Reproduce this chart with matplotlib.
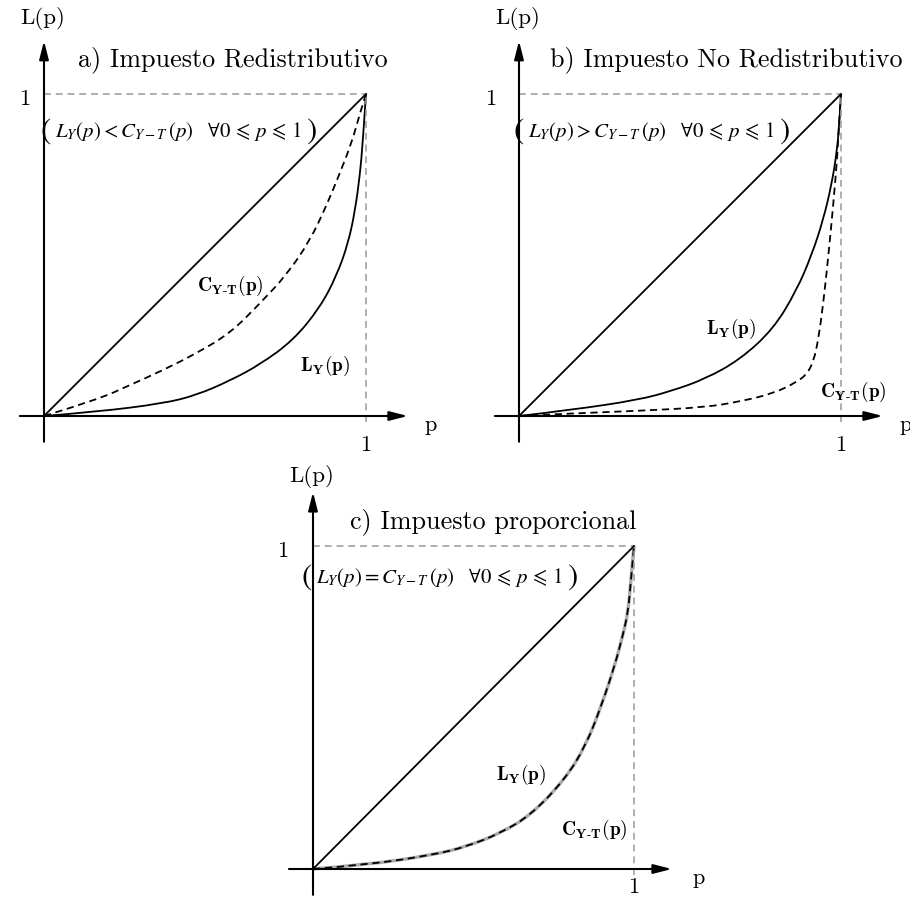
import matplotlib
matplotlib.use("Agg")
import matplotlib.pyplot as plt
from matplotlib.path import Path
from matplotlib.patches import PathPatch
from matplotlib.offsetbox import TextArea, HPacker, AnnotationBbox

plt.rcParams["font.family"] = ["cmr10", "DejaVu Serif"]
plt.rcParams["mathtext.fontset"] = "cm"
plt.rcParams["axes.unicode_minus"] = False

# ── curvas de Lorenz / concentración (p, valor) ─────────────────
P_LY_A = [0, 0.164, 0.371, 0.474, 0.578, 0.671, 0.774, 0.857, 0.909, 0.945, 0.966, 0.981, 0.990, 1]
LY_A   = [0, 0.013, 0.039, 0.065, 0.110, 0.160, 0.235, 0.337, 0.436, 0.538, 0.638, 0.748, 0.850, 1]
P_C_A  = [0, 0.164, 0.267, 0.371, 0.474, 0.578, 0.671, 0.754, 0.826, 0.878, 0.919, 0.956, 0.981, 1]
C_A    = [0, 0.050, 0.096, 0.143, 0.195, 0.257, 0.350, 0.439, 0.545, 0.655, 0.755, 0.850, 0.940, 1]

P_LY_B = [0, 0.164, 0.371, 0.474, 0.578, 0.686, 0.790, 0.862, 0.909, 0.945, 0.971, 0.987, 0.995, 1]
LY_B   = [0, 0.019, 0.050, 0.078, 0.115, 0.175, 0.270, 0.390, 0.500, 0.610, 0.720, 0.820, 0.910, 1]
P_C_B  = [0, 0.164, 0.371, 0.578, 0.686, 0.790, 0.862, 0.894, 0.915, 0.930, 0.945, 0.961, 0.976, 0.989, 0.995, 1]
C_B    = [0, 0.008, 0.016, 0.027, 0.045, 0.070, 0.105, 0.130, 0.170, 0.240, 0.350, 0.500, 0.656, 0.812, 0.930, 1]

P_LY_C = [0, 0.168, 0.376, 0.480, 0.584, 0.680, 0.785, 0.850, 0.900, 0.940, 0.967, 0.982, 0.990, 1]
LY_C   = [0, 0.013, 0.044, 0.070, 0.111, 0.168, 0.278, 0.382, 0.510, 0.630, 0.730, 0.800, 0.890, 1]

TITLES = ["a) Impuesto Redistributivo",
          "b) Impuesto No Redistributivo",
          "c) Impuesto proporcional"]
CONDS = [r"$L_Y(p) < C_{Y-T}\,(p)\quad \forall 0 \,\leqslant\, p \,\leqslant\, 1$",
         r"$L_Y(p) > C_{Y-T}\,(p)\quad \forall 0 \,\leqslant\, p \,\leqslant\, 1$",
         r"$L_Y(p) = C_{Y-T}\,(p)\quad \forall 0 \,\leqslant\, p \,\leqslant\, 1$"]
LBL_LY = r"$\mathbf{L_Y(p)}$"
LBL_C  = r"$\mathbf{C_{Y\text{-}T}(p)}$"

W, H = 910, 905
fig = plt.figure(figsize=(W / 100, H / 100), dpi=100)

PMIN, PMAX, LMIN, LMAX = -0.15, 1.35, -0.15, 1.3
TXT = 16


def panel(ox, oy, ux, uy):
    """Ejes sin marco con el origen en el píxel (ox, oy)."""
    left = (ox + PMIN * ux) / W
    bottom = 1 - (oy - LMIN * uy) / H
    ax = fig.add_axes([left, bottom, (PMAX - PMIN) * ux / W, (LMAX - LMIN) * uy / H])
    ax.set_xlim(PMIN, PMAX)
    ax.set_ylim(LMIN, LMAX)
    ax.axis("off")
    return ax


def curve(ax, ps, vs, **kw):
    # B-spline cuadrático sobre los puntos leídos
    pts = list(zip(ps, vs))
    verts, codes = [pts[0]], [Path.MOVETO]
    for i in range(1, len(pts) - 1):
        end = pts[-1] if i == len(pts) - 2 else (
            (pts[i][0] + pts[i + 1][0]) / 2, (pts[i][1] + pts[i + 1][1]) / 2)
        verts += [pts[i], end]
        codes += [Path.CURVE3, Path.CURVE3]
    ax.add_patch(PathPatch(Path(verts, codes), fill=False, capstyle="butt", **kw))


def condition(ax, text, x, y):
    props = dict(fontsize=15, math_fontfamily="stix")
    big = dict(fontsize=22, math_fontfamily="stix")
    box = HPacker(children=[TextArea(r"$($", textprops=big),
                            TextArea(text, textprops=props),
                            TextArea(r"$)$", textprops=big)],
                  align="center", pad=0, sep=3)
    ax.add_artist(AnnotationBbox(box, (x, y), xycoords="data", frameon=False,
                                 box_alignment=(0.5, 0.5), pad=0))


def base(ax, title, tx, ty, cx, cy, lp_y, one_x, one_y, x_tip, y_tip):
    arr = dict(arrowstyle="-|>,head_length=1.1,head_width=0.28", color="black",
               lw=1.5, shrinkA=0, shrinkB=0)
    ax.annotate("", xy=(x_tip, 0), xytext=(-0.075, 0), arrowprops=arr)
    ax.annotate("", xy=(0, y_tip), xytext=(0, -0.08), arrowprops=arr)
    ax.plot([0, 1], [1, 1], color="#999999", lw=1.1, dashes=(4.5, 3.2))
    ax.plot([1, 1], [-0.02, 1], color="#999999", lw=1.1, dashes=(4.5, 3.2))
    ax.plot([0, 1], [0, 1], color="black", lw=1.3)
    ax.text(-0.005, lp_y, "L(p)", ha="center", va="center", fontsize=16.5)
    ax.text(1.2, -0.03, "p", ha="center", va="center", fontsize=TXT)
    ax.text(1.0, one_y, "1", ha="center", va="center", fontsize=TXT)
    ax.text(one_x, 0.985, "1", ha="center", va="center", fontsize=TXT)
    ax.text(tx, ty, title, ha="center", va="center", fontsize=18.8)
    condition(ax, CONDS[TITLES.index(title)], cx, cy)


solid = dict(edgecolor="black", lw=1.3)
dash = dict(edgecolor="black", lw=1.3, linestyle=(0, (4, 2.6)))

# a) redistributivo
ax = panel(44, 416, 322, 322)
base(ax, TITLES[0], 0.587, 1.106, 0.416, 0.885, 1.235, -0.06, -0.092, 1.13, 1.165)
curve(ax, P_LY_A, LY_A, **solid)
curve(ax, P_C_A, C_A, **dash)
ax.text(0.578, 0.404, LBL_C, ha="center", va="center", fontsize=14)
ax.text(0.873, 0.155, LBL_LY, ha="center", va="center", fontsize=14)

# b) no redistributivo
ax = panel(519, 416, 322, 322)
base(ax, TITLES[1], 0.643, 1.106, 0.41, 0.885, 1.235, -0.087, -0.092, 1.13, 1.165)
curve(ax, P_LY_B, LY_B, **solid)
curve(ax, P_C_B, C_B, **dash)
ax.text(0.658, 0.27, LBL_LY, ha="center", va="center", fontsize=14)
ax.text(1.037, 0.075, LBL_C, ha="center", va="center", fontsize=14)

# c) proporcional: ambas curvas coinciden
ax = panel(313, 869, 321, 323)
base(ax, TITLES[2], 0.562, 1.074, 0.393, 0.904, 1.215, -0.095, -0.055, 1.118, 1.167)
curve(ax, P_LY_C, LY_C, edgecolor="#aaaaaa", lw=2.4)
curve(ax, P_LY_C, LY_C, **dash)
ax.text(0.648, 0.291, LBL_LY, ha="center", va="center", fontsize=14)
ax.text(0.875, 0.121, LBL_C, ha="center", va="center", fontsize=14)

fig.savefig("out.png", dpi=100)
